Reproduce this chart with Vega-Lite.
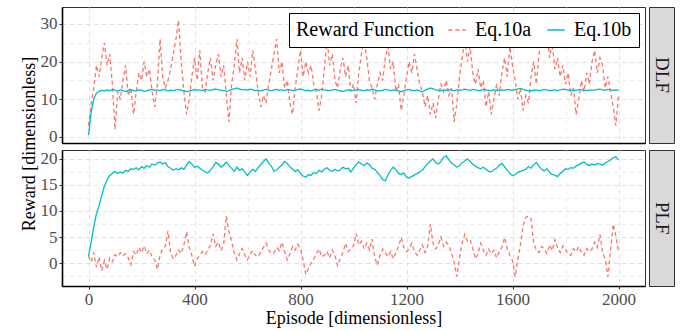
{
"$schema": "https://vega.github.io/schema/vega-lite/v6.json",
"padding": {"left": 20, "top": 6, "right": 5, "bottom": 3},
"spacing": 3,
"title": {"text": "Reward [dimensionless]", "orient": "left", "anchor": "middle", "dx": 23, "offset": 1,
          "font": "Liberation Serif", "fontSize": 18, "fontWeight": "normal", "color": "#000000"},
"config": {
  "font": "Liberation Serif",
  "style": {"guide-label": {"font": "Liberation Serif"}, "guide-title": {"font": "Liberation Serif"}},
  "view": {"stroke": "#333333", "strokeWidth": 1},
  "axis": {
    "labelFont": "Liberation Serif", "labelFontSize": 17, "labelColor": "#4D4D4D",
    "titleFont": "Liberation Serif", "titleFontSize": 18, "titleColor": "#000000", "titleFontWeight": "normal",
    "domainColor": "#000000", "domainWidth": 1.6,
    "tickColor": "#333333", "tickSize": 3, "labelPadding": 2,
    "gridDash": [4, 4]
  },
  "legend": {
    "orient": "top-right", "direction": "horizontal", "titleOrient": "left",
    "offset": 6, "padding": 7,
    "strokeColor": "#000000", "fillColor": "#FFFFFF", "strokeWidth": 1,
    "titleFont": "Liberation Serif", "titleFontSize": 20, "titleFontWeight": "normal", "titleColor": "#000000", "titlePadding": 12,
    "labelFont": "Liberation Serif", "labelFontSize": 20, "labelColor": "#000000", "labelOffset": 8,
    "symbolType": "stroke", "symbolSize": 300, "symbolStrokeWidth": 1.6, "columnPadding": 12
  }
},
"datasets": {
"dlf": [
{"e":0,"a":3,"b":0.5},{"e":10,"a":9,"b":6.5},{"e":20,"a":13,"b":10.2},{"e":30,"a":19,"b":11.6},{"e":40,"a":16,"b":12.1},{"e":50,"a":21,"b":12.4},{"e":60,"a":25,"b":12.2},{"e":70,"a":19,"b":12.5},{"e":80,"a":22,"b":12.3},{"e":90,"a":14,"b":12.6},
{"e":100,"a":2,"b":12.4},{"e":110,"a":12,"b":12.2},{"e":120,"a":10,"b":12.5},{"e":130,"a":15,"b":12.3},{"e":140,"a":19,"b":12.1},{"e":150,"a":11,"b":12.4},{"e":160,"a":13,"b":12.6},{"e":170,"a":6,"b":12.3},{"e":180,"a":12,"b":12.2},{"e":190,"a":17,"b":12.5},
{"e":200,"a":15,"b":12.4},{"e":210,"a":20,"b":12.1},{"e":220,"a":16,"b":12.3},{"e":230,"a":18,"b":12.5},{"e":240,"a":12,"b":12.6},{"e":250,"a":8,"b":12.4},{"e":260,"a":14,"b":12.5},{"e":270,"a":26,"b":12.3},{"e":280,"a":16,"b":12.6},{"e":290,"a":13,"b":12.5},
{"e":300,"a":15,"b":12.2},{"e":310,"a":18,"b":12.4},{"e":320,"a":22,"b":12.3},{"e":330,"a":26,"b":12.5},{"e":340,"a":31,"b":12.6},{"e":350,"a":20,"b":12.4},{"e":360,"a":12,"b":12.3},{"e":370,"a":6,"b":12.0},{"e":380,"a":10,"b":12.2},{"e":390,"a":16,"b":12.4},
{"e":400,"a":21,"b":12.6},{"e":410,"a":15,"b":12.4},{"e":420,"a":23,"b":12.5},{"e":430,"a":13,"b":12.3},{"e":440,"a":12,"b":12.6},{"e":450,"a":17,"b":12.5},{"e":460,"a":21,"b":12.4},{"e":470,"a":15,"b":12.6},{"e":480,"a":19,"b":12.7},{"e":490,"a":22,"b":12.5},
{"e":500,"a":16,"b":12.4},{"e":510,"a":19,"b":12.3},{"e":520,"a":11,"b":12.1},{"e":530,"a":4,"b":12.3},{"e":540,"a":14,"b":12.6},{"e":550,"a":19,"b":12.8},{"e":560,"a":26,"b":13.0},{"e":570,"a":17,"b":12.7},{"e":580,"a":21,"b":12.5},{"e":590,"a":15,"b":12.6},
{"e":600,"a":20,"b":12.4},{"e":610,"a":16,"b":12.7},{"e":620,"a":23,"b":12.5},{"e":630,"a":18,"b":12.3},{"e":640,"a":12,"b":12.4},{"e":650,"a":8,"b":12.2},{"e":660,"a":11,"b":12.5},{"e":670,"a":9,"b":12.6},{"e":680,"a":14,"b":12.4},{"e":690,"a":18,"b":12.3},
{"e":700,"a":22,"b":12.5},{"e":710,"a":26,"b":12.6},{"e":720,"a":17,"b":12.4},{"e":730,"a":20,"b":12.5},{"e":740,"a":13,"b":12.3},{"e":750,"a":15,"b":12.6},{"e":760,"a":9,"b":12.5},{"e":770,"a":6,"b":12.3},{"e":780,"a":13,"b":12.4},{"e":790,"a":18,"b":12.6},
{"e":800,"a":23,"b":12.7},{"e":810,"a":16,"b":12.5},{"e":820,"a":20,"b":12.3},{"e":830,"a":17,"b":12.4},{"e":840,"a":19,"b":12.2},{"e":850,"a":14,"b":12.5},{"e":860,"a":12,"b":12.6},{"e":870,"a":7,"b":12.4},{"e":880,"a":11,"b":12.7},{"e":890,"a":18,"b":12.5},
{"e":900,"a":26,"b":12.4},{"e":910,"a":19,"b":12.3},{"e":920,"a":22,"b":12.5},{"e":930,"a":15,"b":12.6},{"e":940,"a":13,"b":12.4},{"e":950,"a":18,"b":12.2},{"e":960,"a":21,"b":12.1},{"e":970,"a":16,"b":12.3},{"e":980,"a":19,"b":12.5},{"e":990,"a":12,"b":12.4},
{"e":1000,"a":14,"b":12.3},{"e":1010,"a":9,"b":12.5},{"e":1020,"a":17,"b":12.6},{"e":1030,"a":22,"b":12.4},{"e":1040,"a":26,"b":12.3},{"e":1050,"a":21,"b":12.5},{"e":1060,"a":15,"b":12.4},{"e":1070,"a":13,"b":12.7},{"e":1080,"a":10,"b":12.5},{"e":1090,"a":14,"b":12.3},
{"e":1100,"a":17,"b":12.2},{"e":1110,"a":15,"b":12.4},{"e":1120,"a":21,"b":12.6},{"e":1130,"a":24,"b":12.5},{"e":1140,"a":18,"b":12.3},{"e":1150,"a":20,"b":12.5},{"e":1160,"a":12,"b":12.4},{"e":1170,"a":14,"b":12.2},{"e":1180,"a":7,"b":12.0},{"e":1190,"a":11,"b":12.3},
{"e":1200,"a":16,"b":12.5},{"e":1210,"a":20,"b":12.6},{"e":1220,"a":17,"b":12.4},{"e":1230,"a":22,"b":12.3},{"e":1240,"a":18,"b":12.5},{"e":1250,"a":14,"b":12.2},{"e":1260,"a":12,"b":12.0},{"e":1270,"a":8,"b":12.4},{"e":1280,"a":11,"b":12.7},{"e":1290,"a":6,"b":13.0},
{"e":1300,"a":9,"b":12.8},{"e":1310,"a":5,"b":12.5},{"e":1320,"a":10,"b":12.4},{"e":1330,"a":14,"b":12.3},{"e":1340,"a":12,"b":12.5},{"e":1350,"a":15,"b":12.4},{"e":1360,"a":11,"b":12.6},{"e":1370,"a":13,"b":12.4},{"e":1380,"a":4,"b":12.3},{"e":1390,"a":9,"b":12.5},
{"e":1400,"a":16,"b":12.4},{"e":1410,"a":21,"b":12.5},{"e":1420,"a":26,"b":12.7},{"e":1430,"a":20,"b":12.5},{"e":1440,"a":24,"b":12.4},{"e":1450,"a":17,"b":12.6},{"e":1460,"a":14,"b":12.5},{"e":1470,"a":18,"b":12.3},{"e":1480,"a":13,"b":12.4},{"e":1490,"a":15,"b":12.6},
{"e":1500,"a":8,"b":12.5},{"e":1510,"a":12,"b":12.4},{"e":1520,"a":6,"b":12.3},{"e":1530,"a":10,"b":12.5},{"e":1540,"a":14,"b":12.4},{"e":1550,"a":11,"b":12.3},{"e":1560,"a":17,"b":12.5},{"e":1570,"a":21,"b":12.4},{"e":1580,"a":16,"b":12.6},{"e":1590,"a":24,"b":12.5},
{"e":1600,"a":19,"b":12.4},{"e":1610,"a":15,"b":12.6},{"e":1620,"a":10,"b":12.7},{"e":1630,"a":13,"b":12.9},{"e":1640,"a":7,"b":12.6},{"e":1650,"a":11,"b":12.4},{"e":1660,"a":9,"b":12.3},{"e":1670,"a":16,"b":12.2},{"e":1680,"a":20,"b":12.4},{"e":1690,"a":14,"b":12.5},
{"e":1700,"a":22,"b":12.3},{"e":1710,"a":27,"b":12.4},{"e":1720,"a":24,"b":12.6},{"e":1730,"a":28,"b":12.5},{"e":1740,"a":21,"b":12.3},{"e":1750,"a":25,"b":12.4},{"e":1760,"a":18,"b":12.5},{"e":1770,"a":21,"b":12.3},{"e":1780,"a":16,"b":12.5},{"e":1790,"a":19,"b":12.7},
{"e":1800,"a":14,"b":12.6},{"e":1810,"a":17,"b":12.4},{"e":1820,"a":11,"b":12.5},{"e":1830,"a":13,"b":12.3},{"e":1840,"a":6,"b":12.4},{"e":1850,"a":10,"b":12.6},{"e":1860,"a":15,"b":12.5},{"e":1870,"a":12,"b":12.4},{"e":1880,"a":17,"b":12.3},{"e":1890,"a":14,"b":12.5},
{"e":1900,"a":20,"b":12.4},{"e":1910,"a":23,"b":12.5},{"e":1920,"a":17,"b":12.6},{"e":1930,"a":21,"b":12.7},{"e":1940,"a":19,"b":12.5},{"e":1950,"a":13,"b":12.4},{"e":1960,"a":16,"b":12.6},{"e":1970,"a":12,"b":12.5},{"e":1980,"a":8,"b":12.4},{"e":1990,"a":3,"b":12.5},
{"e":2000,"a":11,"b":12.3}
],
"plf": [
{"e":0,"a":1.3,"b":1.3},{"e":10,"a":0.2,"b":4.0},{"e":20,"a":2.0,"b":7.0},{"e":30,"a":-0.8,"b":9.5},{"e":40,"a":1.2,"b":11.0},{"e":50,"a":-1.5,"b":13.0},{"e":60,"a":0.5,"b":14.8},{"e":70,"a":-1.2,"b":16.0},{"e":80,"a":1.0,"b":16.8},{"e":90,"a":0.3,"b":17.2},
{"e":100,"a":1.6,"b":17.6},{"e":110,"a":1.2,"b":17.2},{"e":120,"a":2.0,"b":17.5},{"e":130,"a":1.4,"b":17.3},{"e":140,"a":1.8,"b":17.8},{"e":150,"a":1.0,"b":17.6},{"e":160,"a":-0.3,"b":18.1},{"e":170,"a":2.2,"b":18.0},{"e":180,"a":1.5,"b":18.3},{"e":190,"a":3.0,"b":17.9},
{"e":200,"a":2.0,"b":18.5},{"e":210,"a":3.3,"b":18.2},{"e":220,"a":1.8,"b":18.7},{"e":230,"a":2.5,"b":18.4},{"e":240,"a":1.2,"b":19.0},{"e":250,"a":0.6,"b":18.8},{"e":260,"a":-1.2,"b":19.2},{"e":270,"a":1.5,"b":19.4},{"e":280,"a":2.8,"b":19.0},{"e":290,"a":3.2,"b":19.3},
{"e":300,"a":6.2,"b":18.5},{"e":310,"a":2.0,"b":18.2},{"e":320,"a":0.8,"b":17.8},{"e":330,"a":1.5,"b":18.1},{"e":340,"a":2.5,"b":17.9},{"e":350,"a":1.8,"b":18.3},{"e":360,"a":3.5,"b":18.0},{"e":370,"a":6.0,"b":18.8},{"e":380,"a":3.0,"b":19.5},{"e":390,"a":1.5,"b":19.0},
{"e":400,"a":-0.6,"b":18.4},{"e":410,"a":0.8,"b":18.6},{"e":420,"a":1.5,"b":18.2},{"e":430,"a":2.2,"b":17.8},{"e":440,"a":1.6,"b":17.5},{"e":450,"a":2.4,"b":17.3},{"e":460,"a":3.5,"b":17.8},{"e":470,"a":5.6,"b":18.5},{"e":480,"a":3.2,"b":19.3},{"e":490,"a":4.0,"b":19.0},
{"e":500,"a":2.4,"b":18.4},{"e":510,"a":3.5,"b":18.8},{"e":520,"a":9.0,"b":19.4},{"e":530,"a":6.0,"b":18.7},{"e":540,"a":4.2,"b":18.2},{"e":550,"a":2.0,"b":17.6},{"e":560,"a":0.6,"b":18.4},{"e":570,"a":1.8,"b":17.8},{"e":580,"a":2.8,"b":18.1},{"e":590,"a":1.6,"b":17.4},
{"e":600,"a":0.6,"b":16.8},{"e":610,"a":1.8,"b":17.5},{"e":620,"a":2.4,"b":18.0},{"e":630,"a":1.5,"b":17.6},{"e":640,"a":1.2,"b":18.3},{"e":650,"a":2.2,"b":18.9},{"e":660,"a":3.0,"b":19.5},{"e":670,"a":3.8,"b":20.0},{"e":680,"a":2.5,"b":19.2},{"e":690,"a":1.8,"b":18.6},
{"e":700,"a":2.0,"b":17.6},{"e":710,"a":3.0,"b":17.9},{"e":720,"a":2.4,"b":18.4},{"e":730,"a":4.0,"b":18.8},{"e":740,"a":2.2,"b":19.5},{"e":750,"a":0.6,"b":19.1},{"e":760,"a":1.8,"b":18.5},{"e":770,"a":3.2,"b":18.0},{"e":780,"a":2.5,"b":17.6},{"e":790,"a":3.6,"b":17.9},
{"e":800,"a":2.8,"b":17.2},{"e":810,"a":0.5,"b":16.7},{"e":820,"a":-2.2,"b":16.5},{"e":830,"a":-1.0,"b":17.0},{"e":840,"a":0.0,"b":16.8},{"e":850,"a":0.8,"b":17.4},{"e":860,"a":1.8,"b":17.2},{"e":870,"a":2.7,"b":17.8},{"e":880,"a":1.2,"b":17.5},{"e":890,"a":1.5,"b":18.0},
{"e":900,"a":2.2,"b":18.3},{"e":910,"a":1.0,"b":17.8},{"e":920,"a":2.5,"b":17.6},{"e":930,"a":1.5,"b":18.0},{"e":940,"a":-0.5,"b":17.7},{"e":950,"a":0.8,"b":17.9},{"e":960,"a":2.0,"b":18.4},{"e":970,"a":3.8,"b":18.1},{"e":980,"a":2.2,"b":18.2},{"e":990,"a":2.8,"b":17.5},
{"e":1000,"a":3.3,"b":18.2},{"e":1010,"a":5.7,"b":18.9},{"e":1020,"a":3.5,"b":19.4},{"e":1030,"a":4.2,"b":19.0},{"e":1040,"a":2.7,"b":18.7},{"e":1050,"a":3.8,"b":19.2},{"e":1060,"a":2.5,"b":18.9},{"e":1070,"a":4.6,"b":18.2},{"e":1080,"a":1.2,"b":18.0},{"e":1090,"a":-0.4,"b":17.4},
{"e":1100,"a":1.5,"b":16.8},{"e":1110,"a":2.7,"b":16.0},{"e":1120,"a":2.0,"b":15.8},{"e":1130,"a":1.2,"b":16.9},{"e":1140,"a":2.2,"b":17.8},{"e":1150,"a":0.8,"b":18.4},{"e":1160,"a":2.0,"b":17.9},{"e":1170,"a":3.2,"b":17.2},{"e":1180,"a":4.9,"b":17.0},{"e":1190,"a":3.0,"b":17.3},
{"e":1200,"a":2.2,"b":16.5},{"e":1210,"a":2.7,"b":16.3},{"e":1220,"a":3.8,"b":16.6},{"e":1230,"a":2.2,"b":16.9},{"e":1240,"a":1.5,"b":17.2},{"e":1250,"a":2.5,"b":17.5},{"e":1260,"a":3.5,"b":17.8},{"e":1270,"a":2.0,"b":18.5},{"e":1280,"a":3.2,"b":19.1},{"e":1290,"a":7.5,"b":19.6},
{"e":1300,"a":3.8,"b":20.0},{"e":1310,"a":2.7,"b":19.3},{"e":1320,"a":3.5,"b":19.0},{"e":1330,"a":5.0,"b":19.5},{"e":1340,"a":3.2,"b":20.3},{"e":1350,"a":4.0,"b":20.6},{"e":1360,"a":3.3,"b":19.8},{"e":1370,"a":2.0,"b":19.2},{"e":1380,"a":0.0,"b":18.8},{"e":1390,"a":-2.6,"b":18.4},
{"e":1400,"a":1.0,"b":18.7},{"e":1410,"a":3.8,"b":19.3},{"e":1420,"a":5.5,"b":19.6},{"e":1430,"a":4.2,"b":20.0},{"e":1440,"a":4.5,"b":19.5},{"e":1450,"a":2.8,"b":19.0},{"e":1460,"a":0.8,"b":18.6},{"e":1470,"a":1.8,"b":18.3},{"e":1480,"a":3.8,"b":18.1},{"e":1490,"a":2.5,"b":18.4},
{"e":1500,"a":1.5,"b":18.0},{"e":1510,"a":2.7,"b":17.6},{"e":1520,"a":1.8,"b":17.5},{"e":1530,"a":2.5,"b":17.9},{"e":1540,"a":1.0,"b":18.2},{"e":1550,"a":2.2,"b":18.8},{"e":1560,"a":3.0,"b":19.1},{"e":1570,"a":4.9,"b":18.5},{"e":1580,"a":2.8,"b":17.8},{"e":1590,"a":1.5,"b":17.2},
{"e":1600,"a":0.5,"b":16.8},{"e":1610,"a":-2.6,"b":17.0},{"e":1620,"a":0.8,"b":17.4},{"e":1630,"a":3.5,"b":17.6},{"e":1640,"a":7.2,"b":17.8},{"e":1650,"a":8.8,"b":18.0},{"e":1660,"a":9.0,"b":18.5},{"e":1670,"a":8.5,"b":18.2},{"e":1680,"a":3.8,"b":18.9},{"e":1690,"a":2.5,"b":19.3},
{"e":1700,"a":2.0,"b":18.6},{"e":1710,"a":3.2,"b":18.0},{"e":1720,"a":2.7,"b":17.7},{"e":1730,"a":1.8,"b":18.1},{"e":1740,"a":3.5,"b":17.4},{"e":1750,"a":2.4,"b":17.0},{"e":1760,"a":4.5,"b":16.9},{"e":1770,"a":3.0,"b":16.6},{"e":1780,"a":2.0,"b":17.2},{"e":1790,"a":3.3,"b":17.6},
{"e":1800,"a":2.6,"b":18.1},{"e":1810,"a":1.8,"b":18.0},{"e":1820,"a":1.5,"b":18.3},{"e":1830,"a":2.8,"b":18.2},{"e":1840,"a":2.2,"b":18.6},{"e":1850,"a":3.2,"b":18.9},{"e":1860,"a":2.0,"b":19.2},{"e":1870,"a":1.5,"b":19.4},{"e":1880,"a":2.8,"b":18.9},{"e":1890,"a":2.2,"b":18.7},
{"e":1900,"a":2.7,"b":19.0},{"e":1910,"a":4.0,"b":18.8},{"e":1920,"a":3.0,"b":19.1},{"e":1930,"a":5.5,"b":19.0},{"e":1940,"a":2.0,"b":18.8},{"e":1950,"a":0.8,"b":19.2},{"e":1960,"a":-2.6,"b":19.5},{"e":1970,"a":2.5,"b":19.8},{"e":1980,"a":7.5,"b":20.2},{"e":1990,"a":5.2,"b":20.4},
{"e":2000,"a":2.0,"b":19.8}
]
},
"vconcat": [
  {
    "spacing": 2,
    "hconcat": [
      {
        "width": 583, "height": 136,
        "data": {"name": "dlf"},
        "transform": [{"fold": ["a", "b"], "as": ["series", "reward"]}],
        "mark": {"type": "line", "clip": true, "strokeWidth": 1.3},
        "encoding": {
          "x": {"field": "e", "type": "quantitative",
                "scale": {"domain": [-100, 2100], "nice": false, "zero": false},
                "axis": {"title": null, "labels": false, "ticks": false, "values": [0,200,400,600,800,1000,1200,1400,1600,1800,2000],
                         "gridColor": {"condition": {"test": "datum.value % 400 === 0", "value": "#DEDEDE"}, "value": "#EDEDED"}}},
          "y": {"field": "reward", "type": "quantitative",
                "scale": {"domain": [-1.6, 34.5], "nice": false, "zero": false},
                "axis": {"title": null, "values": [0,5,10,15,20,25,30], "labelFont": "Liberation Serif",
                         "labelExpr": "datum.value % 10 === 0 ? datum.label : ''",
                         "tickOpacity": {"condition": {"test": "datum.value % 10 === 0", "value": 1}, "value": 0},
                         "gridColor": {"condition": {"test": "datum.value % 10 === 0", "value": "#DEDEDE"}, "value": "#EDEDED"}}},
          "color": {"field": "series", "type": "nominal", "title": "Reward Function",
                    "scale": {"domain": ["a", "b"], "range": ["#F8766D", "#00BFC4"]},
                    "legend": {"labelExpr": "datum.label === 'a' ? 'Eq.10a' : 'Eq.10b'"}},
          "strokeDash": {"field": "series", "type": "nominal", "title": "Reward Function",
                    "scale": {"domain": ["a", "b"], "range": [[4, 3], [1, 0]]},
                    "legend": {"labelExpr": "datum.label === 'a' ? 'Eq.10a' : 'Eq.10b'"}}
        }
      },
      {
        "width": 25, "height": 136,
        "view": {"fill": "#D9D9D9", "stroke": "#333333", "strokeWidth": 1},
        "data": {"values": [{"s": "DLF"}]},
        "mark": {"type": "text", "angle": 90, "font": "Liberation Serif", "fontSize": 19, "color": "#1A1A1A", "align": "center", "baseline": "middle"},
        "encoding": {"text": {"field": "s", "type": "nominal"}}
      }
    ],
    "resolve": {"scale": {"color": "independent", "strokeDash": "independent"}, "legend": {"color": "independent", "strokeDash": "independent"}}
  },
  {
    "spacing": 2,
    "hconcat": [
      {
        "width": 583, "height": 136,
        "data": {"name": "plf"},
        "transform": [{"fold": ["a", "b"], "as": ["series", "reward"]}],
        "mark": {"type": "line", "clip": true, "strokeWidth": 1.3},
        "encoding": {
          "x": {"field": "e", "type": "quantitative",
                "scale": {"domain": [-100, 2100], "nice": false, "zero": false},
                "axis": {"title": "Episode [dimensionless]", "values": [0,200,400,600,800,1000,1200,1400,1600,1800,2000],
                         "labelFont": "Liberation Serif",
                         "labelExpr": "datum.value % 400 === 0 ? datum.label : ''",
                         "tickOpacity": {"condition": {"test": "datum.value % 400 === 0", "value": 1}, "value": 0},
                         "gridColor": {"condition": {"test": "datum.value % 400 === 0", "value": "#DEDEDE"}, "value": "#EDEDED"},
                         "format": "d", "titlePadding": 2}},
          "y": {"field": "reward", "type": "quantitative",
                "scale": {"domain": [-4.4, 21.7], "nice": false, "zero": false},
                "axis": {"title": null, "labelFont": "Liberation Serif",
                         "values": [-2.5,0,2.5,5,7.5,10,12.5,15,17.5,20],
                         "labelExpr": "datum.value % 5 === 0 ? datum.label : ''",
                         "tickOpacity": {"condition": {"test": "datum.value % 5 === 0", "value": 1}, "value": 0},
                         "gridColor": {"condition": {"test": "datum.value % 5 === 0", "value": "#DEDEDE"}, "value": "#EDEDED"}}},
          "color": {"field": "series", "type": "nominal",
                    "scale": {"domain": ["a", "b"], "range": ["#F8766D", "#00BFC4"]}, "legend": null},
          "strokeDash": {"field": "series", "type": "nominal",
                    "scale": {"domain": ["a", "b"], "range": [[4, 3], [1, 0]]}, "legend": null}
        }
      },
      {
        "width": 25, "height": 136,
        "view": {"fill": "#D9D9D9", "stroke": "#333333", "strokeWidth": 1},
        "data": {"values": [{"s": "PLF"}]},
        "mark": {"type": "text", "angle": 90, "font": "Liberation Serif", "fontSize": 19, "color": "#1A1A1A", "align": "center", "baseline": "middle"},
        "encoding": {"text": {"field": "s", "type": "nominal"}}
      }
    ],
    "resolve": {"scale": {"color": "independent", "strokeDash": "independent"}, "legend": {"color": "independent", "strokeDash": "independent"}}
  }
],
"resolve": {"scale": {"color": "independent", "strokeDash": "independent"}, "legend": {"color": "independent", "strokeDash": "independent"}}
}
